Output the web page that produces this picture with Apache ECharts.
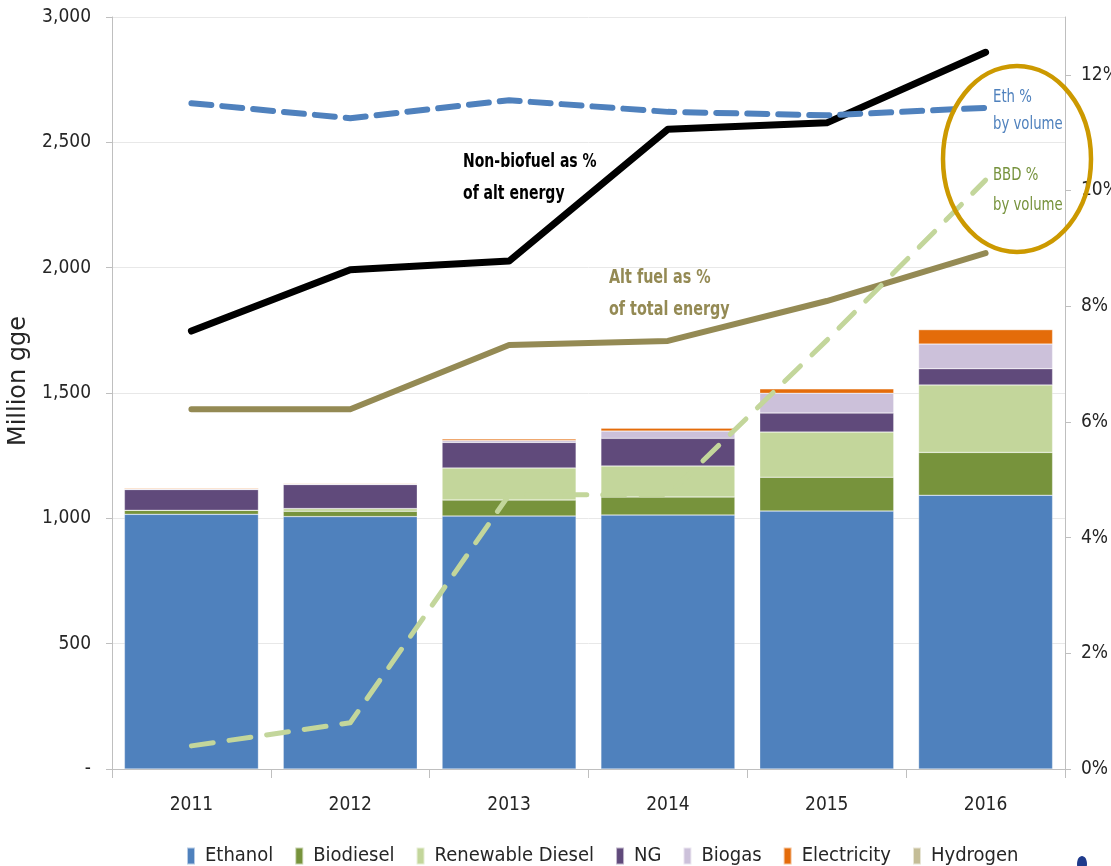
<!DOCTYPE html>
<html>
<head>
<meta charset="utf-8">
<script src="https://cdn.jsdelivr.net/npm/echarts@6/dist/echarts.min.js"></script>
<style>html,body{margin:0;padding:0;background:#fff}#c{width:1111px;height:866px}</style>
</head>
<body>
<div id="c"></div>
<script>
const years = ['2011','2012','2013','2014','2015','2016'];
const ethanol = [1016, 1007, 1009, 1013, 1029, 1092];
const biodiesel = [16, 21, 64, 72, 135, 171];
const renewableDiesel = [0, 11, 128, 124, 180, 269];
const ng = [83, 96, 102, 110, 76, 65];
const biogas = [1, 1, 8, 29, 79, 98];
const electricity = [4, 3, 6, 12, 18, 58];
const hydrogen = [0, 0, 0, 0, 0, 0];
const nonBiofuelPct = [7.57, 8.63, 8.78, 11.06, 11.17, 12.39];
const altFuelPct = [6.22, 6.22, 7.33, 7.40, 8.09, 8.92];
const ethPct = [11.51, 11.25, 11.56, 11.36, 11.30, 11.43];
const bbdPct = [0.40, 0.80, 4.74, 4.74, 7.41, 10.18];
const leftTicks = [0, 500, 1000, 1500, 2000, 2500, 3000];
const rightTicks = [0, 2, 4, 6, 8, 10, 12];

const FONT = '"DejaVu Sans Condensed", "Liberation Sans Narrow", sans-serif';
const chart = echarts.init(document.getElementById('c'));

function bar(name, data, color) {
  return {name, type: 'bar', stack: 'fuel', data, barWidth: 134, yAxisIndex: 0,
    itemStyle: {color, borderColor: 'rgba(255,255,255,0.6)', borderWidth: 0.5}, emphasis: {disabled: true}};
}
function line(name, data, color, width, dash) {
  return {name, type: 'line', data, yAxisIndex: 1, symbol: 'none', z: 5, silent: true,
    lineStyle: {color, width, type: dash || 'solid', cap: 'round', join: 'round'}};
}

chart.setOption({
  animation: false,
  grid: {left: 112, right: 46, top: 17, bottom: 97, containLabel: false, outerBoundsMode: 'none'},
  legend: {
    data: ['Ethanol','Biodiesel','Renewable Diesel','NG','Biogas','Electricity','Hydrogen'],
    left: 181, top: 841, itemWidth: 8, itemHeight: 17, itemGap: 21,
    icon: 'rect',
    textStyle: {fontFamily: FONT, fontSize: 20, color: '#262626', padding: [0,0,0,5]}
  },
  xAxis: {
    type: 'category', data: years,
    axisLine: {lineStyle: {color: '#BFBFBF', width: 1}},
    axisTick: {show: true, length: 9, lineStyle: {color: '#BFBFBF'}},
    axisLabel: {fontFamily: FONT, fontSize: 19, color: '#262626', margin: 27}
  },
  yAxis: [{
    type: 'value', min: 0, max: 3000, interval: 500,
    axisLine: {show: true, lineStyle: {color: '#BFBFBF'}},
    axisTick: {show: true, length: 6, lineStyle: {color: '#BFBFBF'}},
    splitLine: {lineStyle: {color: '#E8E8E8'}},
    axisLabel: {fontFamily: FONT, fontSize: 19, color: '#262626', margin: 21,
      customValues: leftTicks,
      formatter: v => v === 0 ? '-' : v.toLocaleString('en-US')}
  }, {
    type: 'value', min: 0, max: 13, interval: 2, position: 'right',
    axisLine: {show: true, lineStyle: {color: '#BFBFBF'}},
    axisTick: {show: true, length: 6, lineStyle: {color: '#BFBFBF'}, customValues: rightTicks},
    splitLine: {show: false},
    axisLabel: {fontFamily: FONT, fontSize: 19, color: '#262626', margin: 16,
      customValues: rightTicks, formatter: v => v + '%'}
  }],
  series: [
    bar('Ethanol', ethanol, '#4F81BD'),
    bar('Biodiesel', biodiesel, '#77933C'),
    bar('Renewable Diesel', renewableDiesel, '#C3D69B'),
    bar('NG', ng, '#604A7B'),
    bar('Biogas', biogas, '#CCC1DA'),
    bar('Electricity', electricity, '#E46C0A'),
    bar('Hydrogen', hydrogen, '#C4BD97'),
    line('Non-biofuel as % of alt energy', nonBiofuelPct, '#000000', 7),
    line('Alt fuel as % of total energy', altFuelPct, '#948A54', 6),
    line('Eth % by volume', ethPct, '#4F81BD', 6, [20, 11]),
    line('BBD % by volume', bbdPct, '#C3D69B', 5, [22, 16])
  ],
  graphic: [
    {type: 'text', x: 19, y: 381, rotation: Math.PI / 2,
      style: {text: 'Million gge', fill: '#262626', font: '24px "DejaVu Sans", sans-serif', textAlign: 'center', textVerticalAlign: 'middle'}},
    {type: 'text', x: 463, y: 146, scaleX: 0.82, style: {text: 'Non-biofuel as %\nof alt energy', fill: '#000', font: 'bold 19px ' + FONT, lineHeight: 32}},
    {type: 'text', x: 609, y: 262, scaleX: 0.84, style: {text: 'Alt fuel as %\nof total energy', fill: '#948A54', font: 'bold 19px ' + FONT, lineHeight: 32}},
    {type: 'text', x: 993, y: 84, scaleX: 0.82, style: {text: 'Eth %\nby volume', fill: '#4F81BD', font: '18px ' + FONT, lineHeight: 27}},
    {type: 'text', x: 993, y: 160, scaleX: 0.82, style: {text: 'BBD %\nby volume', fill: '#76923C', font: '18px ' + FONT, lineHeight: 30}},
    {type: 'ellipse', shape: {cx: 1017, cy: 159, rx: 74, ry: 93}, style: {fill: 'none', stroke: '#CC9900', lineWidth: 4.5}, z: 10},
    {type: 'ellipse', shape: {cx: 1082, cy: 864, rx: 5, ry: 8}, style: {fill: '#1F3B8C'}}
  ]
});
</script>
</body>
</html>
